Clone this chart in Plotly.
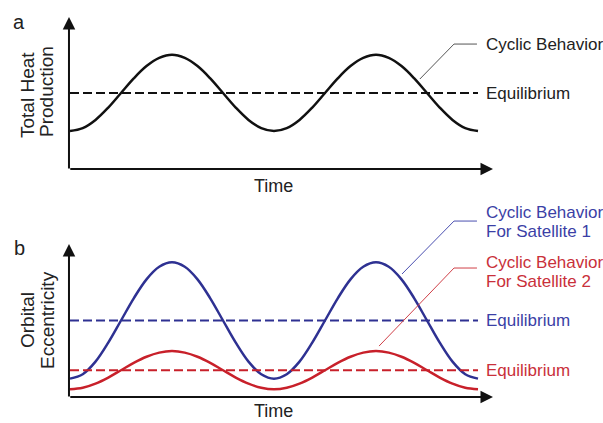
import plotly.graph_objects as go

# ---- data ----
time = [0, 0.125, 0.25, 0.375, 0.5, 0.625, 0.75, 0.875, 1,
        1.125, 1.25, 1.375, 1.5, 1.625, 1.75, 1.875, 2,
        2.125, 2.25, 2.375, 2.5, 2.625, 2.75, 2.875, 3,
        3.125, 3.25, 3.375, 3.5, 3.625, 3.75, 3.875, 4]
heat = [0.25, 0.269, 0.323, 0.404, 0.50, 0.596, 0.677, 0.731, 0.752,
        0.731, 0.677, 0.596, 0.50, 0.404, 0.323, 0.269, 0.25,
        0.269, 0.323, 0.404, 0.50, 0.596, 0.677, 0.731, 0.752,
        0.731, 0.677, 0.596, 0.50, 0.404, 0.323, 0.269, 0.25]
heat_eq = 0.5
sat1 = [0.12, 0.149, 0.231, 0.355, 0.50, 0.645, 0.769, 0.851, 0.88,
        0.851, 0.769, 0.645, 0.50, 0.355, 0.231, 0.149, 0.12,
        0.149, 0.231, 0.355, 0.50, 0.645, 0.769, 0.851, 0.88,
        0.851, 0.769, 0.645, 0.50, 0.355, 0.231, 0.149, 0.12]
sat1_eq = 0.5
sat2 = [0.05, 0.060, 0.087, 0.127, 0.175, 0.223, 0.263, 0.290, 0.30,
        0.290, 0.263, 0.223, 0.175, 0.127, 0.087, 0.060, 0.05,
        0.060, 0.087, 0.127, 0.175, 0.223, 0.263, 0.290, 0.30,
        0.290, 0.263, 0.223, 0.175, 0.127, 0.087, 0.060, 0.05]
sat2_eq = 0.175
eq_span = [0, 4]

BLACK = "#111111"
BLUE = "#2e3192"
RED = "#c8202a"
BLUE_T = "#3b3fa6"
RED_T = "#c9303a"
FONT = "Arial, Liberation Sans, sans-serif"

fig = go.Figure()

# panel a
fig.add_trace(go.Scatter(x=time, y=heat, mode="lines", line=dict(color=BLACK, width=2.5, shape="spline"),
                         xaxis="x", yaxis="y"))
fig.add_trace(go.Scatter(x=eq_span, y=[heat_eq, heat_eq], mode="lines",
                         line=dict(color=BLACK, width=1.8, dash="9px,4px"), xaxis="x", yaxis="y"))
# panel b
fig.add_trace(go.Scatter(x=time, y=sat1, mode="lines", line=dict(color=BLUE, width=2.5, shape="spline"),
                         xaxis="x", yaxis="y2"))
fig.add_trace(go.Scatter(x=eq_span, y=[sat1_eq, sat1_eq], mode="lines",
                         line=dict(color=BLUE, width=1.8, dash="9px,4px"), xaxis="x", yaxis="y2"))
fig.add_trace(go.Scatter(x=time, y=sat2, mode="lines", line=dict(color=RED, width=2.5, shape="spline"),
                         xaxis="x", yaxis="y2"))
fig.add_trace(go.Scatter(x=eq_span, y=[sat2_eq, sat2_eq], mode="lines",
                         line=dict(color=RED, width=1.8, dash="9px,4px"), xaxis="x", yaxis="y2"))

# leader lines
fig.add_trace(go.Scatter(x=[3.43, 3.765, 3.99], y=[0.592, 0.822, 0.822], mode="lines",
                         line=dict(color="#555555", width=1), xaxis="x", yaxis="y"))
fig.add_trace(go.Scatter(x=[3.255, 3.765, 3.99], y=[0.804, 1.15, 1.15], mode="lines",
                         line=dict(color="#4a4fb0", width=1), xaxis="x", yaxis="y2"))
fig.add_trace(go.Scatter(x=[3.03, 3.765, 3.99], y=[0.333, 0.843, 0.843], mode="lines",
                         line=dict(color="#d04048", width=1), xaxis="x", yaxis="y2"))

ann = []
# axis arrows
for yr in ["y", "y2"]:
    ann.append(dict(x=4.147, y=0, ax=-0.012, ay=0, xref="x", yref=yr, axref="x", ayref=yr,
                    showarrow=True, arrowhead=2, arrowsize=1.25, arrowwidth=2, arrowcolor=BLACK, text=""))
    ann.append(dict(x=-0.01, y=1.0, ax=-0.01, ay=-0.006, xref="x", yref=yr, axref="x", ayref=yr,
                    showarrow=True, arrowhead=2, arrowsize=1.25, arrowwidth=2, arrowcolor=BLACK, text=""))

LX = 4.06
def lab(text, y, yr, color, size=17):
    return dict(x=LX, y=y, xref="x", yref=yr, text=text, showarrow=False, xanchor="left", yanchor="middle",
                font=dict(family=FONT, size=size, color=color))

ann += [
    lab("Cyclic Behavior", 0.822, "y", "#222222"),
    lab("Equilibrium", heat_eq, "y", "#222222"),
    lab("Cyclic Behavior", 1.205, "y2", BLUE_T),
    lab("For Satellite 1", 1.08, "y2", BLUE_T),
    lab("Cyclic Behavior", 0.882, "y2", RED_T),
    lab("For Satellite 2", 0.758, "y2", RED_T),
    lab("Equilibrium", sat1_eq, "y2", BLUE_T),
    lab("Equilibrium", sat2_eq, "y2", RED_T),
]

def ptxt(text, x, y, size, angle=0):
    return dict(x=x, y=y, xref="paper", yref="paper", text=text, showarrow=False, xanchor="center",
                yanchor="middle", textangle=angle, font=dict(family=FONT, size=size, color="#222222"))

W, H = 603, 423
ann += [
    ptxt("a", 19 / W, 1 - 22 / H, 20),
    ptxt("b", 19 / W, 1 - 248 / H, 20),
    ptxt("Time", 273 / W, 1 - 186 / H, 18),
    ptxt("Time", 273 / W, 1 - 411 / H, 18),
    ptxt("Total Heat", 27 / W, 1 - 95 / H, 19, -90),
    ptxt("Production", 47 / W, 1 - 92 / H, 19, -90),
    ptxt("Orbital", 27 / W, 1 - 320 / H, 19, -90),
    ptxt("Eccentricity", 47 / W, 1 - 320 / H, 19, -90),
]

px_per_unit_x = 102.0
x0 = -70 / px_per_unit_x
fig.update_layout(
    width=W, height=H, margin=dict(l=0, r=0, t=0, b=0),
    paper_bgcolor="white", plot_bgcolor="white", showlegend=False,
    xaxis=dict(range=[x0, x0 + W / px_per_unit_x], visible=False, fixedrange=True),
    yaxis=dict(range=[169 / 152 - H / 152, 169 / 152], visible=False, fixedrange=True),
    yaxis2=dict(range=[397 / 153 - H / 153, 397 / 153], visible=False, overlaying="y", fixedrange=True),
    annotations=ann,
)

fig.write_html("out.html")
